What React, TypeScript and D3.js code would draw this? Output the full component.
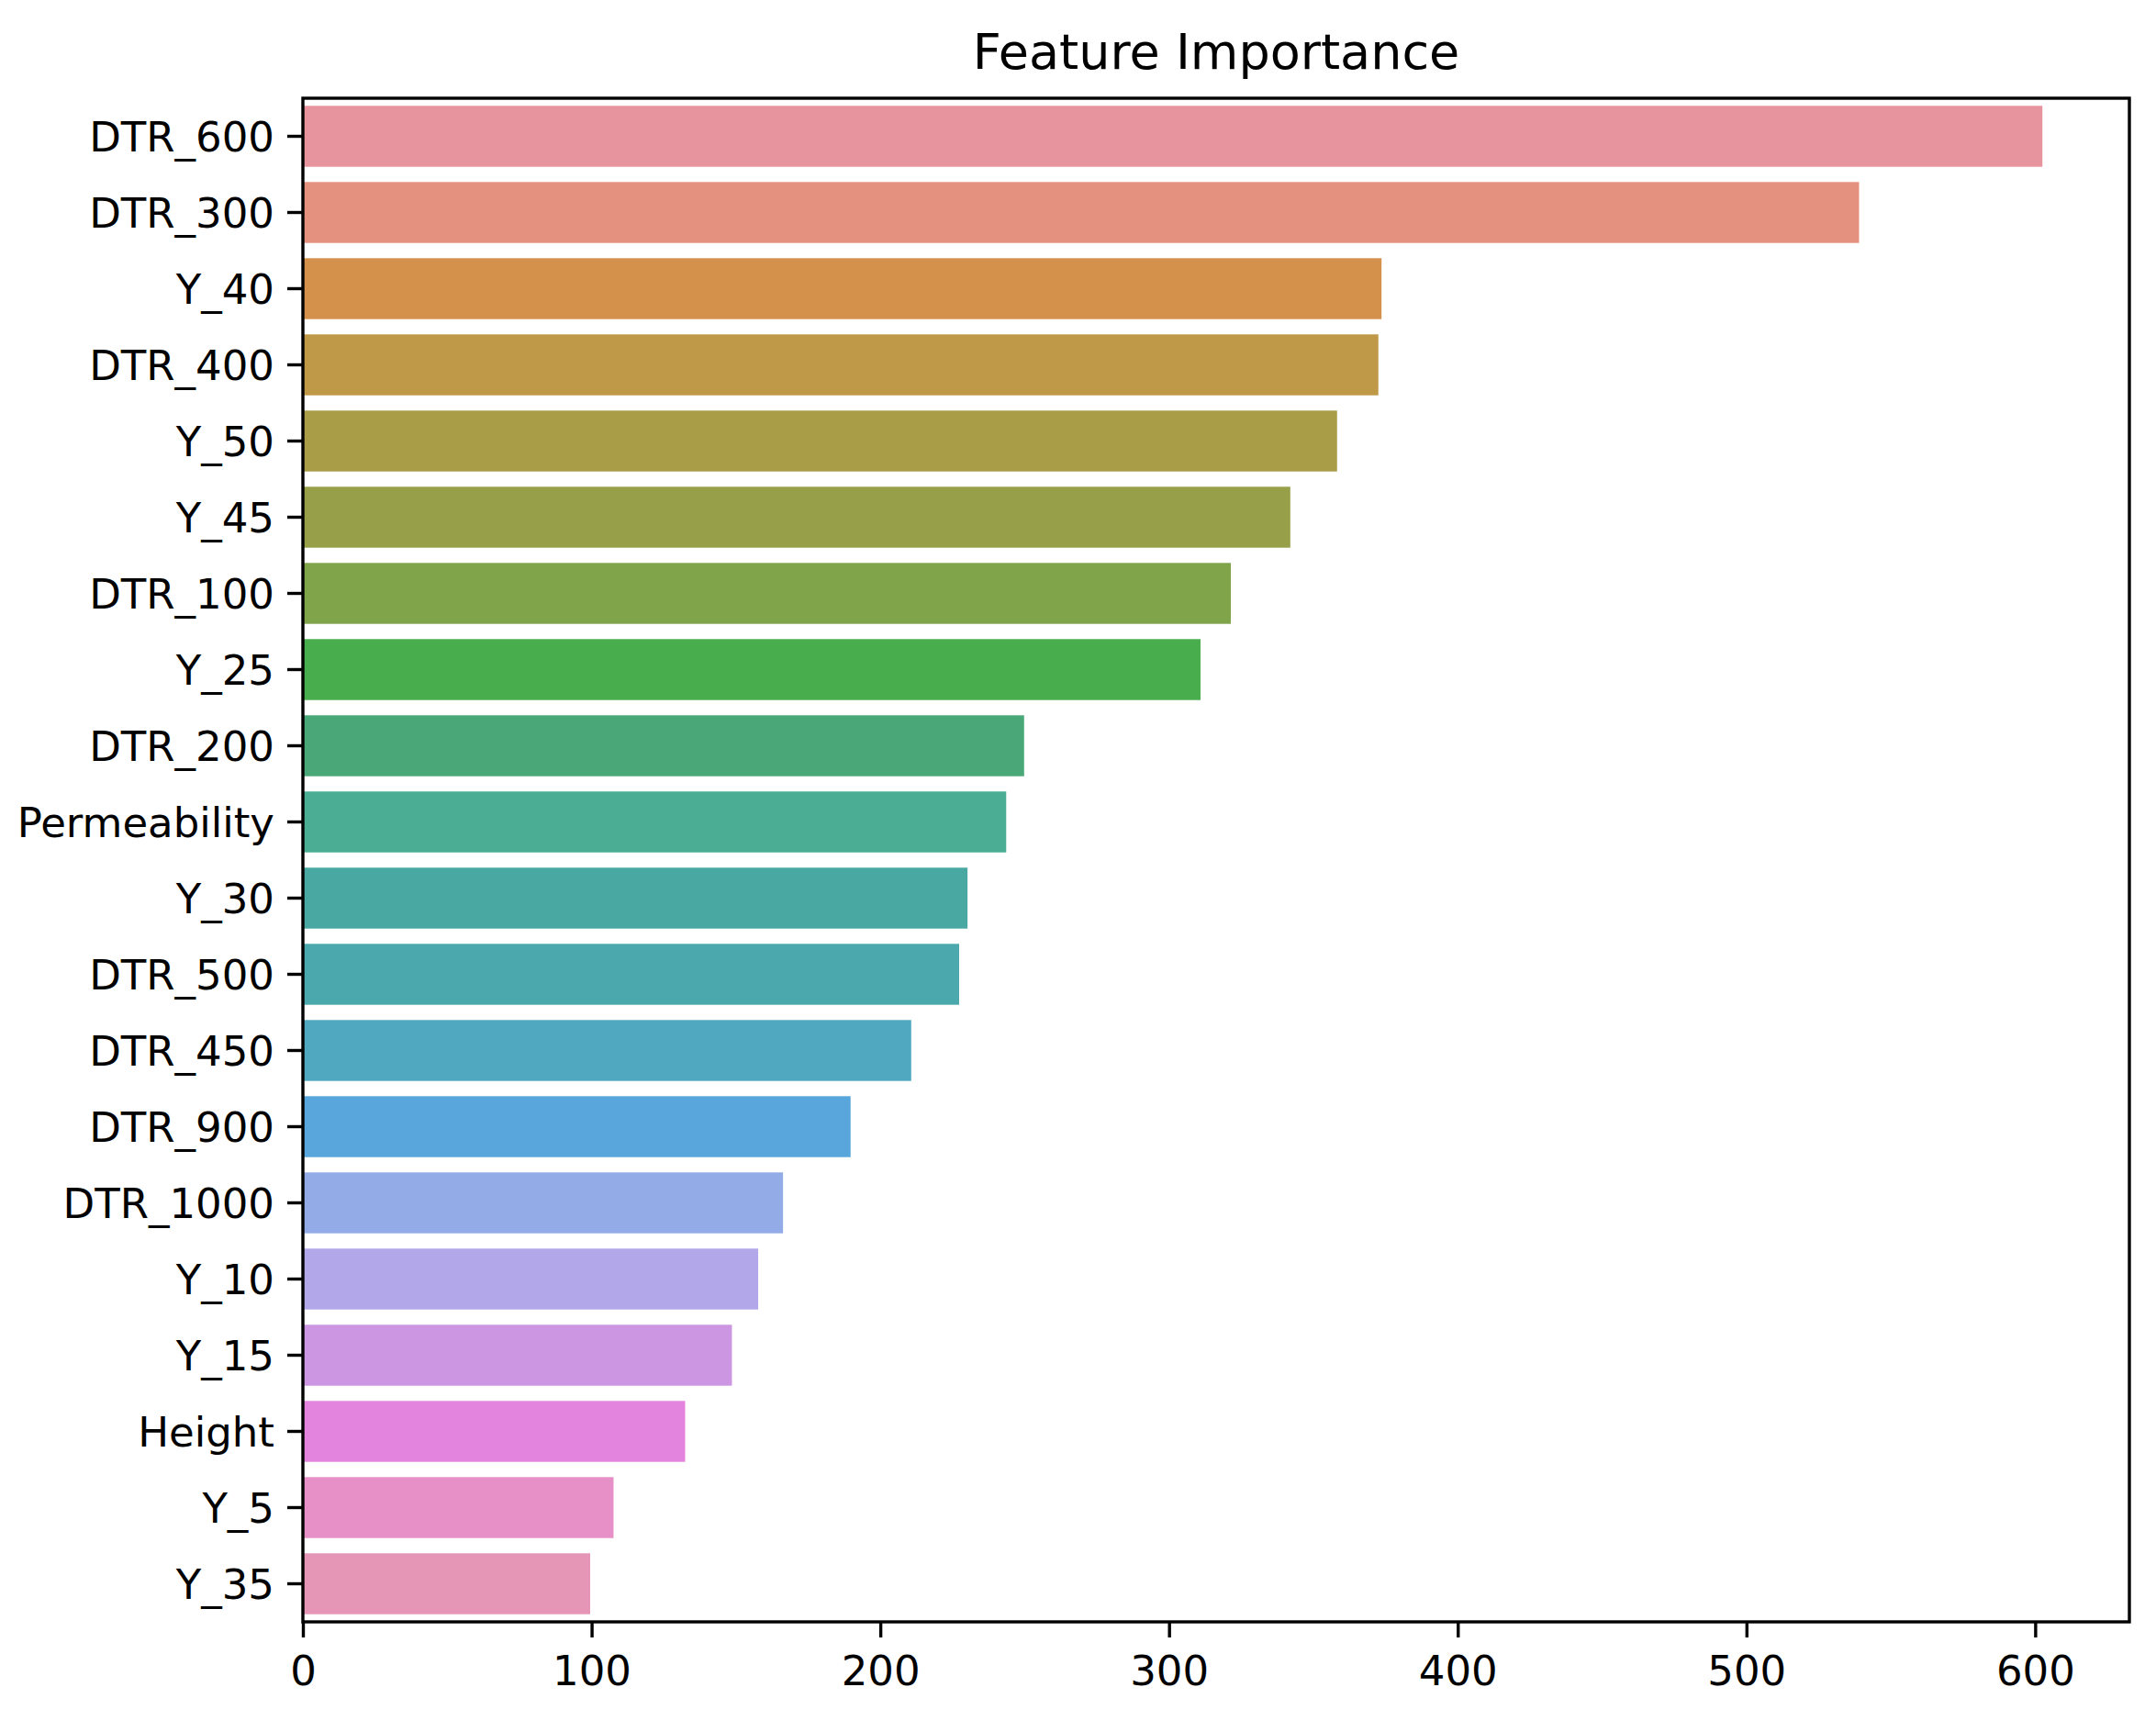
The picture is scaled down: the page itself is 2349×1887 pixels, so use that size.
import { axisBottom, axisLeft, scaleBand, scaleLinear, select } from "d3"
import { useEffect, useRef } from "react"

const features = [
    "DTR_600", "DTR_300", "Y_40", "DTR_400", "Y_50", "Y_45", "DTR_100", "Y_25", "DTR_200", "Permeability",
    "Y_30", "DTR_500", "DTR_450", "DTR_900", "DTR_1000", "Y_10", "Y_15", "Height", "Y_5", "Y_35",
]
const importance = [
    602.5, 539, 373.6, 372.5, 358.2, 342, 321.4, 310.9, 249.8, 243.6,
    230.2, 227.3, 210.7, 189.7, 166.3, 157.7, 148.6, 132.4, 107.6, 99.5,
]
const barColors = [
    "#e8949f", "#e5917f", "#d4914c", "#bf9848", "#a99d48", "#979f49", "#80a44a", "#48ad4d", "#4aa878", "#4bae94",
    "#4aa8a2", "#4ba8ad", "#4fa7c0", "#58a6db", "#93abe6", "#b2a7e8", "#cd96e2", "#e385df", "#e78fc7", "#e595b5",
]
const xTicks = [0, 100, 200, 300, 400, 500, 600]
const title = "Feature Importance"

const width = 2349
const height = 1887
const margin = { top: 107, right: 29, bottom: 120, left: 330 }
const font = "'DejaVu Sans', sans-serif"

const FeatureChart = () => {
    const ref = useRef<SVGSVGElement>(null)

    useEffect(() => {
        const svg = select(ref.current)
        svg.selectAll("*").remove()

        const innerW = width - margin.left - margin.right
        const innerH = height - margin.top - margin.bottom

        const x = scaleLinear()
            .domain([0, Math.max(...importance) * 1.05])
            .range([0, innerW])

        const y = scaleBand()
            .domain(features)
            .range([0, innerH])
            .paddingInner(0.2)
            .paddingOuter(0.1)

        const g = svg.append("g").attr("transform", `translate(${margin.left},${margin.top})`)

        g.selectAll(".bar")
            .data(features)
            .join("rect")
            .attr("class", "bar")
            .attr("x", x(0))
            .attr("y", d => y(d))
            .attr("width", (_, i) => x(importance[i]) - x(0))
            .attr("height", y.bandwidth())
            .attr("fill", (_, i) => barColors[i])

        const xAxis = g.append("g")
            .attr("transform", `translate(0,${innerH})`)
            .call(axisBottom(x).tickValues(xTicks).tickSize(17).tickPadding(20))
        xAxis.select(".domain").remove()

        const yAxis = g.append("g")
            .call(axisLeft(y).tickSize(17).tickPadding(14))
        yAxis.select(".domain").remove()
        yAxis.selectAll(".tick text").attr("dy", "0.36em")

        g.selectAll(".tick line").attr("stroke", "#000").attr("stroke-width", 3.4)
        g.selectAll(".tick text")
            .attr("fill", "#000")
            .style("font-family", font)
            .style("font-size", "45px")

        // frame
        g.append("rect")
            .attr("width", innerW)
            .attr("height", innerH)
            .attr("fill", "none")
            .attr("stroke", "#000")
            .attr("stroke-width", 3.4)

        svg.append("text")
            .attr("x", margin.left + innerW / 2)
            .attr("y", margin.top - 32)
            .attr("text-anchor", "middle")
            .style("font-family", font)
            .style("font-size", "54px")
            .attr("fill", "#000")
            .text(title)
    }, [])

    return <svg ref={ref} width={width} height={height} style={{ display: "block", background: "#fff" }}></svg>
}

const App = () => (
    <div style={{ position: "absolute", left: 0, top: 0 }}>
        <FeatureChart />
    </div>
)

export default App
